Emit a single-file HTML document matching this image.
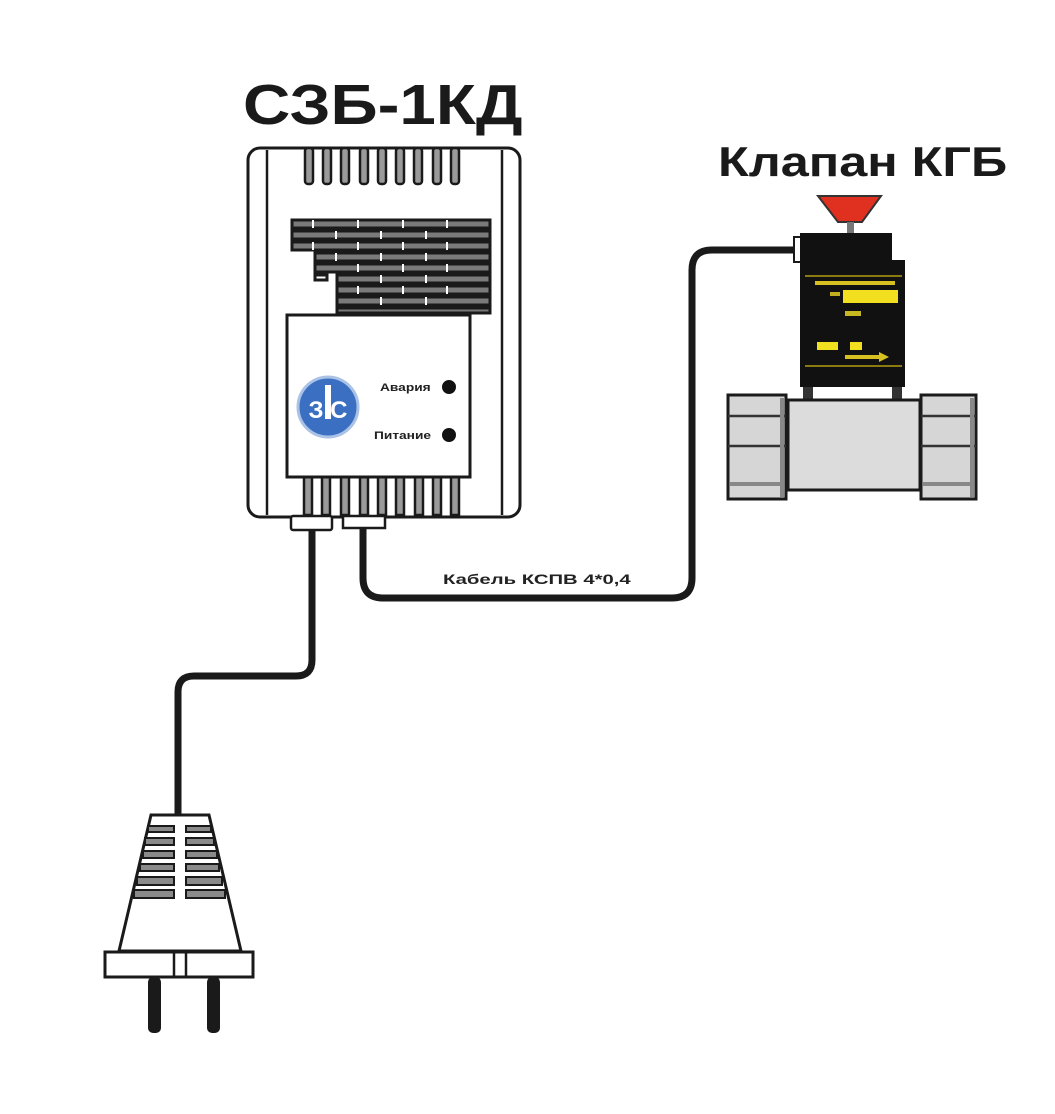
<!DOCTYPE html>
<html><head><meta charset="utf-8"><style>html,body{margin:0;padding:0;background:#fff}svg{display:block}</style></head>
<body>
<svg width="1055" height="1114" viewBox="0 0 1055 1114" xmlns="http://www.w3.org/2000/svg" font-family="Liberation Sans, sans-serif">
<rect width="1055" height="1114" fill="#fff"/>
<text transform="translate(243,124) scale(1.15,1)" x="0" y="0" font-size="57" font-weight="bold" fill="#1a1a1a">СЗБ-1КД</text>
<text transform="translate(718,176) scale(1.2,1)" x="0" y="0" font-size="42" font-weight="bold" fill="#1a1a1a">Клапан КГБ</text>

<!-- cables -->
<g fill="none" stroke="#1a1a1a" stroke-width="7">
<path d="M312 528 V660 Q312 676 296 676 H194 Q178 676 178 692 V818"/>
<path d="M363 526 V578 Q363 598 383 598 H672 Q692 598 692 578 V270 Q692 250 712 250 H798"/>
</g>
<text transform="translate(443,584) scale(1.45,1)" x="0" y="0" font-size="14" font-weight="bold" fill="#222">Кабель КСПВ 4*0,4</text>

<!-- device body -->
<rect x="248" y="148" width="272" height="369" rx="12" fill="#fff" stroke="#1a1a1a" stroke-width="3"/>
<line x1="267" y1="150" x2="267" y2="515" stroke="#1a1a1a" stroke-width="2.5"/>
<line x1="502" y1="150" x2="502" y2="515" stroke="#1a1a1a" stroke-width="2.5"/>
<g stroke="#1a1a1a" stroke-width="2.5" fill="#9a9a9a">
<rect x="305" y="148" width="8" height="36" rx="3"/>
<rect x="323" y="148" width="8" height="36" rx="3"/>
<rect x="341" y="148" width="8" height="36" rx="3"/>
<rect x="360" y="148" width="8" height="36" rx="3"/>
<rect x="378" y="148" width="8" height="36" rx="3"/>
<rect x="396" y="148" width="8" height="36" rx="3"/>
<rect x="414" y="148" width="8" height="36" rx="3"/>
<rect x="433" y="148" width="8" height="36" rx="3"/>
<rect x="451" y="148" width="8" height="36" rx="3"/>
</g>
<!-- grille -->
<g stroke="#1a1a1a" stroke-width="3" fill="#7a7a7a">
<rect x="292" y="220" width="198" height="8"/>
<rect x="292" y="231" width="198" height="8"/>
<rect x="292" y="242" width="198" height="8"/>
<rect x="315" y="253" width="175" height="8"/>
<rect x="315" y="264" width="175" height="8"/>
<rect x="315" y="275" width="12" height="5" fill="#fff"/>
<rect x="337" y="275" width="153" height="8"/>
<rect x="337" y="286" width="153" height="8"/>
<rect x="337" y="297" width="153" height="8"/>
<rect x="337" y="308" width="153" height="5"/>
</g>
<g stroke="#fff" stroke-width="2">
<line x1="313" y1="220" x2="313" y2="228"/><line x1="358" y1="220" x2="358" y2="228"/><line x1="403" y1="220" x2="403" y2="228"/><line x1="447" y1="220" x2="447" y2="228"/>
<line x1="336" y1="231" x2="336" y2="239"/><line x1="381" y1="231" x2="381" y2="239"/><line x1="426" y1="231" x2="426" y2="239"/>
<line x1="313" y1="242" x2="313" y2="250"/><line x1="358" y1="242" x2="358" y2="250"/><line x1="403" y1="242" x2="403" y2="250"/><line x1="447" y1="242" x2="447" y2="250"/>
<line x1="336" y1="253" x2="336" y2="261"/><line x1="381" y1="253" x2="381" y2="261"/><line x1="426" y1="253" x2="426" y2="261"/>
<line x1="358" y1="264" x2="358" y2="272"/><line x1="403" y1="264" x2="403" y2="272"/><line x1="447" y1="264" x2="447" y2="272"/>
<line x1="381" y1="275" x2="381" y2="283"/><line x1="426" y1="275" x2="426" y2="283"/>
<line x1="358" y1="286" x2="358" y2="294"/><line x1="403" y1="286" x2="403" y2="294"/><line x1="447" y1="286" x2="447" y2="294"/>
<line x1="381" y1="297" x2="381" y2="305"/><line x1="426" y1="297" x2="426" y2="305"/>
</g>
<!-- bottom slots -->
<g stroke="#1a1a1a" stroke-width="2.5" fill="#9a9a9a">
<rect x="304" y="477" width="8" height="38"/>
<rect x="322" y="477" width="8" height="38"/>
<rect x="341" y="477" width="8" height="38"/>
<rect x="360" y="477" width="8" height="38"/>
<rect x="378" y="477" width="8" height="38"/>
<rect x="396" y="477" width="8" height="38"/>
<rect x="415" y="477" width="8" height="38"/>
<rect x="433" y="477" width="8" height="38"/>
<rect x="451" y="477" width="8" height="38"/>
</g>
<!-- panel -->
<rect x="287" y="315" width="183" height="162" fill="#fff" stroke="#1a1a1a" stroke-width="3"/>
<circle cx="328" cy="407" r="30" fill="#3b6fc2" stroke="#aac2e6" stroke-width="3"/>
<text x="328" y="418" font-size="24" font-weight="bold" fill="#fff" text-anchor="middle">З С</text>
<rect x="325" y="385" width="6" height="34" fill="#fff"/>
<text transform="translate(380,391) scale(1.25,1)" font-size="11" font-weight="bold" fill="#222">Авария</text>
<circle cx="449" cy="387" r="7" fill="#111"/>
<text transform="translate(374,439) scale(1.25,1)" font-size="11" font-weight="bold" fill="#222">Питание</text>
<circle cx="449" cy="435" r="7" fill="#111"/>
<!-- connector boxes -->
<rect x="291" y="516" width="41" height="14" rx="2" fill="#fff" stroke="#1a1a1a" stroke-width="2.5"/>
<rect x="343" y="516" width="42" height="12" fill="#fff" stroke="#1a1a1a" stroke-width="2.5"/>

<!-- valve -->
<polygon points="818,196 881,196 862,222 838,222" fill="#e03020" stroke="#333" stroke-width="2"/>
<rect x="847" y="222" width="7" height="12" fill="#777"/>
<rect x="794" y="237" width="8" height="25" fill="#fff" stroke="#1a1a1a" stroke-width="2"/>
<path d="M800 233 H892 V260 H905 V387 H800 Z" fill="#111"/>
<rect x="803" y="387" width="10" height="14" fill="#333"/>
<rect x="892" y="387" width="10" height="14" fill="#333"/>
<line x1="805" y1="276" x2="902" y2="276" stroke="#8a7a10" stroke-width="2"/>
<rect x="815" y="281" width="80" height="4" fill="#d8c020"/>
<rect x="843" y="290" width="55" height="13" fill="#f2e020"/>
<rect x="830" y="292" width="10" height="4" fill="#c0b020"/>
<rect x="845" y="311" width="16" height="5" fill="#c8b820"/>
<rect x="817" y="342" width="21" height="8" fill="#f2e020"/>
<rect x="850" y="342" width="12" height="8" fill="#f2e020"/>
<rect x="845" y="355" width="34" height="4" fill="#d8c020"/>
<polygon points="879,352 889,357 879,362" fill="#d8c020"/>
<line x1="805" y1="366" x2="902" y2="366" stroke="#8a7a10" stroke-width="2"/>
<!-- pipe -->
<rect x="788" y="400" width="132" height="90" fill="#dcdcdc" stroke="#1a1a1a" stroke-width="3"/>
<g fill="#d6d6d6" stroke="#1a1a1a" stroke-width="3">
<rect x="728" y="395" width="58" height="104"/>
<rect x="921" y="395" width="55" height="104"/>
</g>
<g stroke="#333" stroke-width="2.5">
<line x1="728" y1="416" x2="786" y2="416"/><line x1="728" y1="446" x2="786" y2="446"/>
<line x1="921" y1="416" x2="976" y2="416"/><line x1="921" y1="446" x2="976" y2="446"/>
</g>
<g stroke="#888" stroke-width="4">
<line x1="730" y1="484" x2="784" y2="484"/><line x1="923" y1="484" x2="974" y2="484"/>
<line x1="782" y1="398" x2="782" y2="497"/><line x1="972" y1="398" x2="972" y2="497"/>
</g>

<!-- plug -->
<polygon points="151,815 209,815 241,951 119,951" fill="#fff" stroke="#1a1a1a" stroke-width="3"/>
<g fill="#8a8a8a" stroke="#1a1a1a" stroke-width="2">
<rect x="148" y="826" width="26" height="6"/><rect x="186" y="826" width="25" height="6"/>
<rect x="145" y="838" width="29" height="7"/><rect x="186" y="838" width="28" height="7"/>
<rect x="143" y="851" width="31" height="7"/><rect x="186" y="851" width="31" height="7"/>
<rect x="140" y="864" width="34" height="7"/><rect x="186" y="864" width="33" height="7"/>
<rect x="137" y="877" width="37" height="8"/><rect x="186" y="877" width="36" height="8"/>
<rect x="134" y="890" width="40" height="8"/><rect x="186" y="890" width="39" height="8"/>
</g>
<rect x="105" y="952" width="148" height="25" fill="#fff" stroke="#1a1a1a" stroke-width="3"/>
<line x1="174" y1="952" x2="174" y2="977" stroke="#1a1a1a" stroke-width="2.5"/>
<line x1="186" y1="952" x2="186" y2="977" stroke="#1a1a1a" stroke-width="2.5"/>
<rect x="148" y="977" width="13" height="56" rx="5" fill="#1a1a1a"/>
<rect x="207" y="977" width="13" height="56" rx="5" fill="#1a1a1a"/>
</svg>
</body></html>
